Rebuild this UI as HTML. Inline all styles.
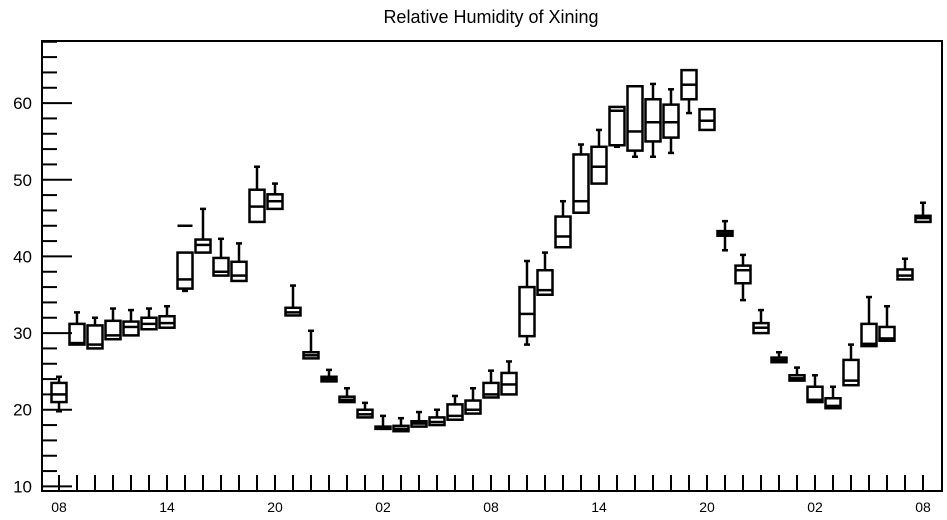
<!DOCTYPE html>
<html><head><meta charset="utf-8"><style>
html,body{margin:0;padding:0;background:#fff;}
svg{display:block;font-family:"Liberation Sans",sans-serif;}
</style></head><body>
<svg id="chart" width="947" height="520" viewBox="0 0 947 520">
<text x="491" y="23" font-size="18" text-anchor="middle">Relative Humidity of Xining</text>
<rect x="42" y="41" width="900" height="450" fill="none" stroke="#000" stroke-width="2"/>
<g id="axes"></g>
<g id="boxes"></g>
</svg>
<script>
const hourLabels = ["08","09","10","11","12","13","14","15","16","17","18","19","20","21","22","23","00","01","02","03","04","05","06","07","08","09","10","11","12","13","14","15","16","17","18","19","20","21","22","23","00","01","02","03","04","05","06","07","08"];
const whiskerLow = [19.8,28.5,28,29.2,29.7,30.5,30.7,35.5,40.5,37.5,36.8,44.5,46.2,32.3,26.7,23.7,21,19,17.5,17.2,17.8,18,18.7,19.5,21.6,22,28.5,35,41.2,45.7,49.5,54.3,53,53,53.5,58.7,56.8,40.8,34.3,30,26.2,23.8,21,20.2,23.2,28.3,29,37,44.5];
const q1 = [21,28.5,28,29.2,29.7,30.5,30.7,35.8,40.5,37.5,36.8,44.5,46.2,32.3,26.7,23.7,21,19,17.5,17.2,17.8,18,18.7,19.5,21.6,22,29.6,35,41.2,45.7,49.5,54.5,53.8,55,55.5,60.5,56.5,42.7,36.5,30,26.2,23.8,21,20.2,23.2,28.3,29,37,44.5];
const median = [22,28.7,28.5,29.7,30.8,31.2,31.3,37,41.5,38,37.5,46.5,47.2,32.7,27.1,24,21.3,19.4,17.6,17.5,18.2,18.4,19.2,20,22,23.3,32.5,35.6,42.6,47.2,51.7,59,56.3,57.5,57.5,62.4,57.7,43,38.2,30.7,26.5,24.1,21.3,20.5,23.8,28.6,29.3,37.5,45];
const q3 = [23.5,31.2,31,31.6,31.5,32,32.2,40.5,42.2,39.8,39.3,48.7,48.1,33.3,27.5,24.3,21.7,20,17.8,17.9,18.5,19,20.7,21.2,23.5,24.8,36,38.2,45.2,53.3,54.3,59.5,62.2,60.5,59.8,64.3,59.2,43.3,38.8,31.3,26.8,24.5,23,21.5,26.5,31.2,30.8,38.3,45.3];
const whiskerHigh = [24.3,32.7,32,33.2,33,33.2,33.5,40.5,46.2,42.3,41.7,51.7,49.5,36.2,30.3,25.2,22.8,20.9,19.2,18.9,19.7,20,21.8,22.8,25.1,26.3,39.4,40.5,47.2,54.6,56.5,59.5,62.2,62.5,61.8,64.3,59.2,44.6,40.2,33,27.5,25.5,24.5,23,28.5,34.7,33.5,39.7,47];
const outliers = [[7,44]];
const yTicks = [10,20,30,40,50,60];

const X0=42,X1=942,Y0=491,Y1=41;
const yMin=9.4,yMax=68.1;
function xs(i){return 59+i*18;}
function ys(v){return Y0-(v-yMin)/(yMax-yMin)*(Y0-Y1);}
const NS="http://www.w3.org/2000/svg";
function mk(tag,attrs,parent){const e=document.createElementNS(NS,tag);for(const k in attrs)e.setAttribute(k,attrs[k]);parent.appendChild(e);return e;}
const axes=document.getElementById('axes');
const boxes=document.getElementById('boxes');
// y ticks
for(let v=10;v<=68;v+=2){
  const major=(v%10===0);
  const t=mk('line',{x1:X0,x2:X0+(major?30:15),y1:ys(v),y2:ys(v),stroke:'#000','stroke-width':2},axes);
  
  
}
yTicks.forEach(v=>{
  const t=mk('text',{x:32,y:ys(v)+6,'font-size':17,'text-anchor':'end'},axes);
  t.textContent=v;
  
  
});
// x ticks
hourLabels.forEach((h,i)=>{
  const t=mk('line',{x1:xs(i),x2:xs(i),y1:Y0,y2:Y0-16,stroke:'#000','stroke-width':2},axes);
  
  
  if(i%6===0){
    const l=mk('text',{x:xs(i),y:512,'font-size':14,'text-anchor':'middle'},axes);
    l.textContent=h;
    
    
  }
});
// boxes
const W=7.5;
hourLabels.forEach((h,i)=>{
  const g=mk('g',{stroke:'#000','stroke-width':2.5,fill:'none'},boxes);
  
  
  const x=xs(i);
  mk('rect',{x:x-W,y:ys(q3[i]),width:2*W,height:Math.max(1,ys(q1[i])-ys(q3[i]))},g);
  mk('line',{x1:x-W,x2:x+W,y1:ys(median[i]),y2:ys(median[i])},g);
  if(whiskerHigh[i]>q3[i]){
    mk('line',{x1:x,x2:x,y1:ys(q3[i]),y2:ys(whiskerHigh[i])},g);
    mk('line',{x1:x-3,x2:x+3,y1:ys(whiskerHigh[i]),y2:ys(whiskerHigh[i])},g);
  }
  if(whiskerLow[i]<q1[i]){
    mk('line',{x1:x,x2:x,y1:ys(q1[i]),y2:ys(whiskerLow[i])},g);
    mk('line',{x1:x-3,x2:x+3,y1:ys(whiskerLow[i]),y2:ys(whiskerLow[i])},g);
  }
});
outliers.forEach(o=>{
  const l=mk('line',{x1:xs(o[0])-W,x2:xs(o[0])+W,y1:ys(o[1]),y2:ys(o[1]),stroke:'#000','stroke-width':2.5},boxes);
  
  
});
</script>
</body></html>
